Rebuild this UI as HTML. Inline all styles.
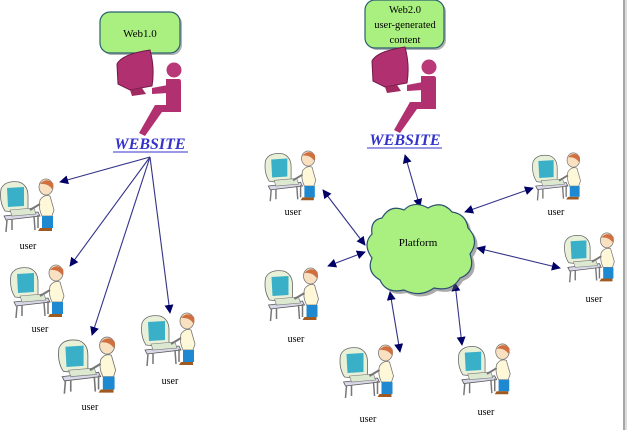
<!DOCTYPE html>
<html><head><style>
html,body{margin:0;padding:0;background:#fff;}
svg{display:block;}
text{font-family:"Liberation Serif",serif;}
</style></head><body>
<svg width="628" height="430" viewBox="0 0 628 430" xmlns="http://www.w3.org/2000/svg">
<defs>
<marker id="ah" viewBox="0 0 10 10" refX="9" refY="5" markerWidth="9" markerHeight="9" orient="auto-start-reverse" markerUnits="userSpaceOnUse">
<path d="M0,0 L10,5 L0,10 z" fill="#000066"/></marker>
<symbol id="user" viewBox="0 0 60 58">
<path d="M4,38 L38,34 L40,38 L6,42 z" fill="#d8d8e8" stroke="#555" stroke-width="0.8"/>
<path d="M7,42 L6,54 M12,41 L12,52 M34,38 L35,52 M38,37 L38,50" stroke="#777" stroke-width="1.5" fill="none"/>
<path d="M1,11 Q5,2 19,4 Q28,7 28,18 L28,31 Q18,35 5,33 Q-1,24 1,11z" fill="#e8f0d8" stroke="#666" stroke-width="0.8"/>
<path d="M7,10 L24,9 L24,28 L8,29 z" fill="#3ab0c8"/>
<path d="M10,32 L34,30 L36,36 L12,38 z" fill="#dde8d0" stroke="#777" stroke-width="0.6"/>
<path d="M40,22 Q44,16 50,18 L54,32 L52,38 L42,38 Q38,30 40,22z" fill="#fff8d8" stroke="#777" stroke-width="0.8"/>
<path d="M42,38 L53,38 L53,50 L42,50 z" fill="#1e88d0"/>
<path d="M40,50 L52,50 L52,53 L38,53 z" fill="#a05a20"/>
<ellipse cx="46" cy="9" rx="7" ry="8" fill="#f8e0c0" stroke="#777" stroke-width="0.8"/>
<path d="M40,6 Q46,-1 53,5 Q54,9 52,11 Q48,5 40,6z" fill="#d07040"/>
<path d="M40,26 L30,32" stroke="#777" stroke-width="2"/>
</symbol>
<symbol id="fig" viewBox="0 0 80 90">
<path d="M3,16 Q8,6 36,2 Q41,20 38,38 L16,42 L4,36 z" fill="#b03070" stroke="#701848" stroke-width="1"/>
<path d="M16,42 L18,48 L32,46 L28,40z" fill="#a02a60"/>
<circle cx="60" cy="22" r="7.5" fill="#b83878"/>
<path d="M52,31 L65,31 Q67,31 67,34 L67,64 L48,64 L31,88 L25,85 L41,57 L52,57 z" fill="#b03070"/>
<path d="M54,37 L38,40 L38,46 L54,45" fill="#b03070"/>
</symbol>
</defs>
<line x1="624" y1="0" x2="624" y2="430" stroke="#888" stroke-width="1.5"/>
<line x1="626" y1="0" x2="626" y2="430" stroke="#ddd" stroke-width="2"/>

<rect x="102" y="14" width="80" height="41" rx="10" fill="#666" opacity="0.5"/>
<rect x="100" y="12" width="80" height="41" rx="10" fill="#aaf080" stroke="#2a6070" stroke-width="1.2"/>
<text x="140" y="37" font-size="11" text-anchor="middle">Web1.0</text>
<rect x="367" y="2" width="79" height="48" rx="10" fill="#666" opacity="0.5"/>
<rect x="365" y="0" width="79" height="48" rx="10" fill="#aaf080" stroke="#2a6070" stroke-width="1.2"/>
<text x="405" y="13" font-size="10.5" text-anchor="middle">Web2.0</text>
<text x="405" y="28" font-size="10.5" text-anchor="middle">user-generated</text>
<text x="405" y="43" font-size="10.5" text-anchor="middle">content</text>

<use href="#fig" x="114" y="48" width="80" height="90"/>
<use href="#fig" x="369" y="45" width="80" height="90"/>
<text x="150" y="149" font-size="16" font-weight="bold" font-style="italic" fill="#3333cc" text-anchor="middle">WEBSITE</text>
<line x1="113" y1="152" x2="188" y2="152" stroke="#3333cc" stroke-width="1"/>
<text x="405" y="145" font-size="16" font-weight="bold" font-style="italic" fill="#3333cc" text-anchor="middle">WEBSITE</text>
<line x1="367" y1="148" x2="442" y2="148" stroke="#3333cc" stroke-width="1"/>

<g stroke="#333388" stroke-width="1.1" fill="none">
<line x1="150" y1="157" x2="60" y2="182" marker-end="url(#ah)"/>
<line x1="150" y1="157" x2="70" y2="266" marker-end="url(#ah)"/>
<line x1="150" y1="157" x2="92" y2="335" marker-end="url(#ah)"/>
<line x1="150" y1="157" x2="170" y2="313" marker-end="url(#ah)"/>
<line x1="405" y1="155" x2="420" y2="207" marker-start="url(#ah)" marker-end="url(#ah)"/>
<line x1="323" y1="190" x2="365" y2="245" marker-start="url(#ah)" marker-end="url(#ah)"/>
<line x1="328" y1="266" x2="365" y2="252" marker-start="url(#ah)" marker-end="url(#ah)"/>
<line x1="400" y1="352" x2="390" y2="292" marker-start="url(#ah)" marker-end="url(#ah)"/>
<line x1="462" y1="345" x2="455" y2="283" marker-start="url(#ah)" marker-end="url(#ah)"/>
<line x1="465" y1="212" x2="533" y2="188" marker-start="url(#ah)" marker-end="url(#ah)"/>
<line x1="477" y1="248" x2="560" y2="268" marker-start="url(#ah)" marker-end="url(#ah)"/>
</g>

<path d="M382,218 Q390,204 404,210 Q414,200 428,208 Q442,200 452,212 Q466,214 468,228 Q480,240 470,254 Q476,272 460,278 Q452,292 434,288 Q420,298 404,290 Q386,294 380,280 Q366,272 372,258 Q362,244 372,234 Q370,220 382,218z" fill="#555" opacity="0.5" transform="translate(3,3)"/>
<path d="M382,218 Q390,204 404,210 Q414,200 428,208 Q442,200 452,212 Q466,214 468,228 Q480,240 470,254 Q476,272 460,278 Q452,292 434,288 Q420,298 404,290 Q386,294 380,280 Q366,272 372,258 Q362,244 372,234 Q370,220 382,218z" fill="#aaf080" stroke="#2a5070" stroke-width="1.2"/>
<text x="418" y="246" font-size="11" text-anchor="middle">Platform</text>

<g font-size="10" text-anchor="middle">
<use href="#user" x="0" y="178" width="60" height="58"/><text x="28" y="249">user</text>
<use href="#user" x="10" y="264" width="60" height="58"/><text x="40" y="332">user</text>
<use href="#user" x="57" y="336" width="66" height="62"/><text x="90" y="410">user</text>
<use href="#user" x="140" y="312" width="62" height="58"/><text x="170" y="384">user</text>
<use href="#user" x="263" y="150" width="60" height="55"/><text x="293" y="215">user</text>
<use href="#user" x="530" y="152" width="58" height="52"/><text x="556" y="215">user</text>
<use href="#user" x="562" y="232" width="60" height="54"/><text x="594" y="302">user</text>
<use href="#user" x="263" y="267" width="63" height="58"/><text x="296" y="342">user</text>
<use href="#user" x="338" y="344" width="63" height="58"/><text x="368" y="422">user</text>
<use href="#user" x="458" y="342" width="58" height="58"/><text x="486" y="415">user</text>
</g>
</svg>
</body></html>
